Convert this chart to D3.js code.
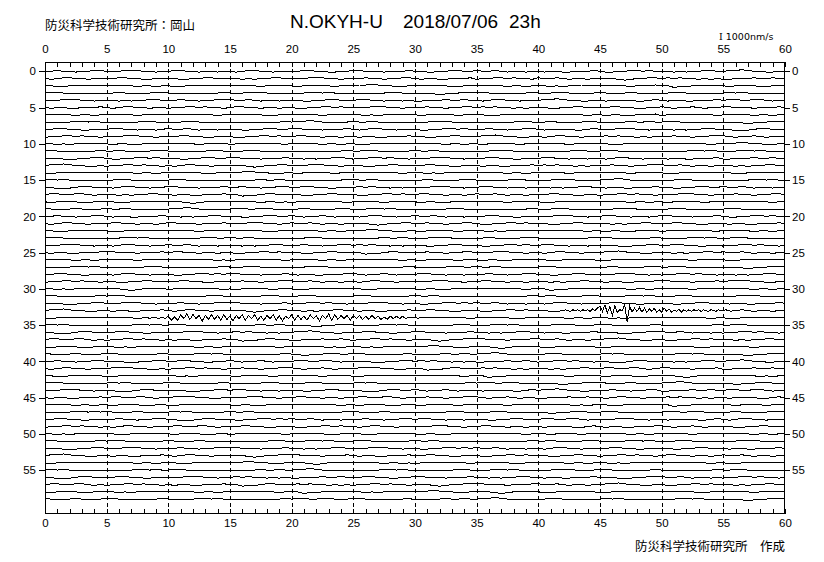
<!DOCTYPE html>
<html><head><meta charset="utf-8">
<script src="https://cdn.jsdelivr.net/npm/d3@7/dist/d3.min.js"></script>
<style>body{margin:0;background:#fff;} svg{display:block}</style>
</head><body>
<svg id="c" width="824" height="562"></svg>
<script>
// ---------- data ----------
const stationCode = "N.OKYH-U";
const dateLabel = "2018/07/06";
const hourLabel = "23h";
const orgTitle = "防災科学技術研究所：岡山";
const footerText = "防災科学技術研究所　作成";
const scaleLabel = "1000nm/s";
const xTickLabels = [0,5,10,15,20,25,30,35,40,45,50,55,60];
const yTickLabels = [0,5,10,15,20,25,30,35,40,45,50,55];
const minorSeconds = [0,1,2,3,4,5,6,7,8,9,10,11,12,13,14,15,16,17,18,19,20,21,22,23,24,25,26,27,28,29,30,31,32,33,34,35,36,37,38,39,40,41,42,43,44,45,46,47,48,49,50,51,52,53,54,55,56,57,58,59,60];
// one string per minute; two digits per second (0..60 s); value = (digit-5) x 100 nm/s
const baseTraces = [
"5565545566 5556665545 5665545545 5456655455 5566554455 6655545556 5544556655 6556545545 5455445556 5445566565 5545455665 5667655445 5",
"5456655455 5566554455 5544556655 5545455665 5556665545 5565545566 5455445556 4556656554 6556545545 5554345566 5656554545 4455565565 5",
"5544556655 6556545545 5445566565 5565545566 5456655455 5667655445 5566554455 5665545545 5545455665 6655545556 5534456655 5455554456 5",
"5665545545 5565545566 5455445556 5556665545 4556656554 5544556655 5554345566 6655545556 5456655455 6545565455 5566554455 5656554545 5",
"5556665545 5545455665 5565545566 6556545545 5544556655 5665545545 4455565565 5456655455 5667655445 5455554456 5455445556 5665566545 5",
"5455445556 5456655455 4556656554 5665545545 5445566565 5556665545 5565545566 5656554545 5544556655 5566554455 6545565455 6655545556 5",
"6556545545 6655545556 5556665545 5566554455 5565545566 5545455665 5456655455 5544556655 5665566545 5455445556 4556656554 5665545545 5",
"5445566565 5544556655 5456655455 5455445556 5667655445 6556545545 5556665545 5545455665 5565545566 4455565565 5665545545 5554345566 5",
"5566554455 5665545545 6556545545 5544556655 6655545556 5456655455 5445566565 5565545566 5455554456 5556665545 5545455665 5534456655 5",
"4556656554 5556665545 5566554455 5445566565 5665545545 5455445556 5544556655 5667655445 5456655455 5656554545 5565545566 6545565455 5",
"5545455665 5455445556 5565545566 4556656554 6556545545 5445566565 5665545545 5456655455 6655545556 5544556655 5556665545 5667655445 5",
"6655545556 5565545566 5545455665 5456655455 5455445556 5566554455 6556545545 5556665545 5544556655 5665545545 5445566565 4556656554 5",
"5554345566 5445566565 5544556655 6655545556 5545455665 4556656554 5556665545 5566554455 5665545545 5456655455 5455445556 4455565565 5",
"5667655445 4556656554 5456655455 5554345566 5556665545 5544556655 5566554455 5455445556 5656554545 5565545566 6556545545 5545455665 5",
"4455565565 5665545545 5566554455 5667655445 5456655455 5556665545 5545455665 6556545545 5565545566 6655545556 5445566565 5544556655 5",
"5656554545 5566554455 5665545545 4455565565 5455445556 6556545545 5565545566 5544556655 5556665545 5667655445 5456655455 5445566565 5",
"5534456655 5456655455 6655545556 5565545566 5566554455 5656554545 5556665545 5665545545 5545455665 5455445556 5544556655 6556545545 5",
"5665566545 5545455665 5455445556 5534456655 5544556655 5445566565 5665545545 6556545545 5566554455 4556656554 5556665545 5565545566 5",
"5455554456 5544556655 5554345566 6556545545 4556656554 5565545566 5455445556 6655545556 5445566565 5665545545 5456655455 5556665545 5",
"6545565455 6556545545 5667655445 5665566545 5565545566 4556656554 5544556655 5455445556 5456655455 5556665545 5566554455 5665545545 5",
"5565545566 5455445556 5545455665 5544556655 6545565455 5456655455 6556545545 5566554455 5556665545 5665545545 6655545556 5445566565 5",
"5456655455 5665545545 6655545556 5556665545 6556545545 5554345566 5565545566 5445566565 5544556655 5545455665 5566554455 5455445556 5",
"5544556655 5445566565 5565545566 5566554455 5665545545 5667655445 5456655455 5545455665 5556665545 5455445556 4556656554 6556545545 5",
"5665545545 4556656554 5544556655 6556545545 5456655455 4455565565 5556665545 5565545566 5455445556 6655545556 5445566565 5566554455 5",
"5556665545 5456655455 6556545545 5545455665 5565545566 5656554545 5544556655 5445566565 5665545545 5554345566 5566554455 4556656554 5",
"5455445556 6655545556 5665545545 5445566565 5544556655 5534456655 5565545566 5556665545 5456655455 5667655445 5545455665 6556545545 5",
"6556545545 5565545566 5556665545 4556656554 5665545545 5665566545 5456655455 5455445556 5544556655 4455565565 6655545556 5445566565 5",
"5445566565 5545455665 5455445556 5456655455 5556665545 5455554456 5544556655 6556545545 5665545545 5565545566 5566554455 5554345566 5",
"5566554455 5456655455 5445566565 6655545556 5455445556 6545565455 5665545545 5565545566 5544556655 5556665545 4556656554 5545455665 5",
"4556656554 5544556655 5566554455 5565545566 6556545545 5456655455 5556665545 5665545545 5545455665 5455445556 6655545556 5667655445 5",
"5545455665 5554345566 4556656554 5456655455 5445566565 5544556655 5455445556 5556665545 5534456655 6556545545 5565545566 5665545545 5",
"6655545556 5665545545 5545455665 5544556655 5566554455 5665545545 6556545545 5455445556 5565545566 5445566565 5456655455 5556665545 5",
"5554345566 5556665545 5565545566 6655545556 4556656554 5556665545 5445566565 6556545545 5456655455 5566554455 5544556655 5455445556 5",
"5667655445 5455445556 5456655455 5554345566 5545455665 5455445556 5566554455 5445566565 5544556655 4556656554 5665545545 6556545545 5",
"4455565565 6556545545 5544556655 5667655445 6655545556 6556545545 4556656554 5566554455 5665545545 5545455665 5556665545 5445566565 5",
"5656554545 5445566565 5665545545 4455565565 5554345566 5445566565 5545455665 4556656554 5556665545 6655545556 5455445556 5566554455 5",
"5534456655 5566554455 5556665545 5656554545 5667655445 5566554455 6655545556 5545455665 5455445556 5554345566 6556545545 4556656554 5",
"5665566545 4556656554 5455445556 5534456655 4455565565 4556656554 5554345566 6655545556 6556545545 5667655445 5445566565 5545455665 5",
"5455554456 5545455665 6556545545 5665566545 5656554545 5545455665 5667655445 5554345566 5445566565 4455565565 5566554455 6655545556 5",
"6545565455 6655545556 5445566565 5455554456 5534456655 6655545556 4455565565 5667655445 5566554455 5656554545 4556656554 5554345566 5",
"5565545566 5554345566 5566554455 6545565455 5665566545 5554345566 5656554545 4455565565 4556656554 5534456655 5545455665 5667655445 5",
"5456655455 5667655445 4556656554 5565545566 6545565455 5667655445 5534456655 5656554545 5545455665 5665566545 6655545556 4455565565 5",
"5544556655 4455565565 5545455665 5456655455 5565545566 4455565565 5665566545 5534456655 6655545556 5455554456 5554345566 5656554545 5",
"5665545545 5656554545 6655545556 5544556655 5456655455 5656554545 5455554456 5665566545 5554345566 6545565455 5667655445 5534456655 5",
"5556665545 5534456655 5554345566 5665545545 5544556655 5534456655 6545565455 5455554456 5667655445 5565545566 4455565565 5665566545 5",
"5455445556 5665566545 5667655445 5556665545 5665545545 5665566545 5565545566 6545565455 4455565565 5456655455 5656554545 5455554456 5",
"6556545545 5455554456 4455565565 5455445556 5556665545 5455554456 5456655455 5565545566 5656554545 5544556655 5534456655 6545565455 5",
"5445566565 6545565455 5656554545 6556545545 5455445556 6545565455 5544556655 5456655455 5534456655 5665545545 5665566545 5565545566 5",
"5566554455 5565545566 5534456655 5445566565 6556545545 5565545566 5665545545 5544556655 5665566545 5556665545 5455554456 5456655455 5",
"4556656554 5456655455 5665566545 5566554455 5445566565 5456655455 5556665545 5665545545 5455554456 5455445556 6545565455 5544556655 5",
"5545455665 5544556655 5455554456 4556656554 5566554455 5544556655 5455445556 5556665545 6545565455 6556545545 5565545566 5665545545 5",
"6655545556 5665545545 6545565455 5545455665 4556656554 5665545545 6556545545 5455445556 5565545566 5445566565 5456655455 5556665545 5",
"5554345566 5556665545 5565545566 6655545556 5545455665 5556665545 5445566565 6556545545 5456655455 5566554455 5544556655 5455445556 5",
"5667655445 5455445556 5456655455 5554345566 6655545556 5455445556 5566554455 5445566565 5544556655 4556656554 5665545545 6556545545 5",
"4455565565 6556545545 5544556655 5667655445 5554345566 6556545545 4556656554 5566554455 5665545545 5545455665 5556665545 5445566565 5",
"5656554545 5445566565 5665545545 4455565565 5667655445 5445566565 5545455665 4556656554 5556665545 6655545556 5455445556 5566554455 5",
"5534456655 5566554455 5556665545 5656554545 4455565565 5566554455 6655545556 5545455665 5455445556 5554345566 6556545545 4556656554 5",
"5665566545 4556656554 5455445556 5534456655 5656554545 4556656554 5554345566 6655545556 6556545545 5667655445 5445566565 5545455665 5",
"5455554456 5545455665 6556545545 5665566545 5534456655 5545455665 5667655445 5554345566 5445566565 4455565565 5566554455 6655545556 5",
"6545565455 6655545556 5445566565 5455554456 5665566545 6655545556 4455565565 5667655445 5566554455 5656554545 4556656554 5554345566 5"
];
// earthquake segments (values in 100 nm/s), replacing the base samples in their interval
const quakeMinute33 = { minute: 33, start: 42, step: 0.2, values: [
 0,1,0,-1,1,0,1,-1,1,0,
 1,-1,2,0,3,
 6,-1,7,-3,5,
 -6,6,-2,1,0,
 7,-14,6,-2,3,
 -1,4,-2,3,-2,
 2,-1,3,-2,1,
 -2,3,-1,2,-2,
 1,-1,2,-2,1,
 -1,1,-1,1,0,
 1,-1,1,0,-1,
 1,0,-1,1,0,
 0,1,0,-1,0,
 0 ]};
const quakeMinute34 = { minute: 34, start: 8, step: 0.25, values: [
 0,1,-1,1,0,-1,1,-1,
 2,-3,1,-3,4,-1,5,-2,
 4,-1,3,-4,3,-2,4,-2,
 3,-3,4,-2,2,-4,3,-1,
 4,-3,3,-1,4,-3,2,-3,
 3,-1,4,-3,3,-4,2,-1,
 4,-3,3,-2,2,-3,4,-1,
 3,-4,3,-1,5,-3,4,-2,
 3,-1,3,-3,3,-1,3,-2,
 2,-2,3,-1,2,-2,1,-2,
 2,-1,2,-1,2,-1,1,0,
 1,-1,1,0,
 0 ]};
const quakeSegments = [quakeMinute33, quakeMinute34];

// ---------- drawing ----------
const svg = d3.select("#c");
const L = 45, R = 785, T = 62, B = 514;
const x = d3.scaleLinear().domain([0, 60]).range([L, R]);
const y = d3.scaleLinear().domain([0, 59]).range([71.3, 499.1]);
const amp = d3.scaleLinear().domain([-1000, 1000]).range([8, -8]);
const numFont = "'Liberation Sans', Arial, sans-serif";
const cjkFont = "'Noto Sans CJK JP', sans-serif";

svg.append("rect").attr("width", 824).attr("height", 562).attr("fill", "#fff");
svg.append("defs").append("clipPath").attr("id", "plotclip")
  .append("rect").attr("x", L).attr("y", T).attr("width", R - L).attr("height", B - T);

// dashed vertical grid lines
svg.append("g").selectAll("line")
  .data(xTickLabels.filter(d => d > 0 && d < 60))
  .join("line")
  .attr("x1", d => Math.round(x(d)) + 0.5).attr("x2", d => Math.round(x(d)) + 0.5)
  .attr("y1", T).attr("y2", B)
  .attr("stroke", "#000").attr("stroke-width", 1)
  .attr("stroke-dasharray", "4,3")
  .attr("shape-rendering", "crispEdges");

// traces
function tracePoints(m) {
  const digits = baseTraces[m].replace(/ /g, "").split("");
  const n = digits.length - 1;
  let pts = digits.map((c, i) => [i * 60 / n, (+c - 5) * 100]);
  quakeSegments.filter(s => s.minute === m).forEach(s => {
    const end = s.start + s.step * (s.values.length - 1);
    pts = pts.filter(p => p[0] < s.start || p[0] > end);
    s.values.forEach((v, i) => pts.push([s.start + i * s.step, v * 100]));
  });
  return pts.sort((a, b) => a[0] - b[0]);
}
const minutes = baseTraces.map((_, i) => i);
svg.append("g").attr("clip-path", "url(#plotclip)")
  .selectAll("path")
  .data(minutes)
  .join("path")
  .attr("fill", "none")
  .attr("stroke", "#000")
  .attr("stroke-width", 1)
  .attr("shape-rendering", "crispEdges")
  .attr("d", m => d3.line()
      .x(d => x(d[0]))
      .y(d => y(m) + amp(d[1]))(tracePoints(m)));

// frame
svg.append("rect").attr("x", L + 0.5).attr("y", T + 0.5)
  .attr("width", R - L - 1).attr("height", B - T - 1)
  .attr("fill", "none").attr("stroke", "#000").attr("shape-rendering", "crispEdges");

// axes
function styleAxis(g) {
  g.select(".domain").remove();
  g.selectAll("line").attr("stroke", "#000").attr("shape-rendering", "crispEdges");
  g.selectAll("text").attr("fill", "#000").style("font-family", numFont).style("font-size", "11.5px");
}
svg.append("g").attr("transform", `translate(0,${T})`)
  .call(d3.axisTop(x).tickValues(minorSeconds).tickSize(-5).tickPadding(9)
    .tickFormat(d => xTickLabels.includes(d) ? d : ""))
  .call(styleAxis);
svg.append("g").attr("transform", `translate(0,${B})`)
  .call(d3.axisBottom(x).tickValues(minorSeconds).tickSize(-5).tickPadding(5)
    .tickFormat(d => xTickLabels.includes(d) ? d : ""))
  .call(styleAxis);
svg.append("g").attr("transform", `translate(${L},0)`)
  .call(d3.axisLeft(y).tickValues(yTickLabels).tickSize(6).tickPadding(3))
  .call(styleAxis);
svg.append("g").attr("transform", `translate(${R},0)`)
  .call(d3.axisRight(y).tickValues(yTickLabels).tickSize(5).tickPadding(2))
  .call(styleAxis);

// titles
svg.append("text").attr("x", 45).attr("y", 30)
  .style("font-family", cjkFont).style("font-size", "12.5px").text(orgTitle);
const tt = svg.append("g").style("font-family", numFont).style("font-size", "19px");
tt.append("text").attr("x", 290).attr("y", 28).text(stationCode);
tt.append("text").attr("x", 403).attr("y", 28).text(dateLabel);
tt.append("text").attr("x", 509).attr("y", 28).text(hourLabel);
const sc = svg.append("text").attr("x", 719).attr("y", 40)
  .style("font-family", "'DejaVu Sans', sans-serif").style("font-size", "9.5px");
sc.append("tspan").style("font-family", "'DejaVu Serif', serif").text("I ");
sc.append("tspan").text(scaleLabel);
svg.append("text").attr("x", 785).attr("y", 551).attr("text-anchor", "end")
  .style("font-family", cjkFont).style("font-size", "12.5px").text(footerText);
</script>
</body></html>
